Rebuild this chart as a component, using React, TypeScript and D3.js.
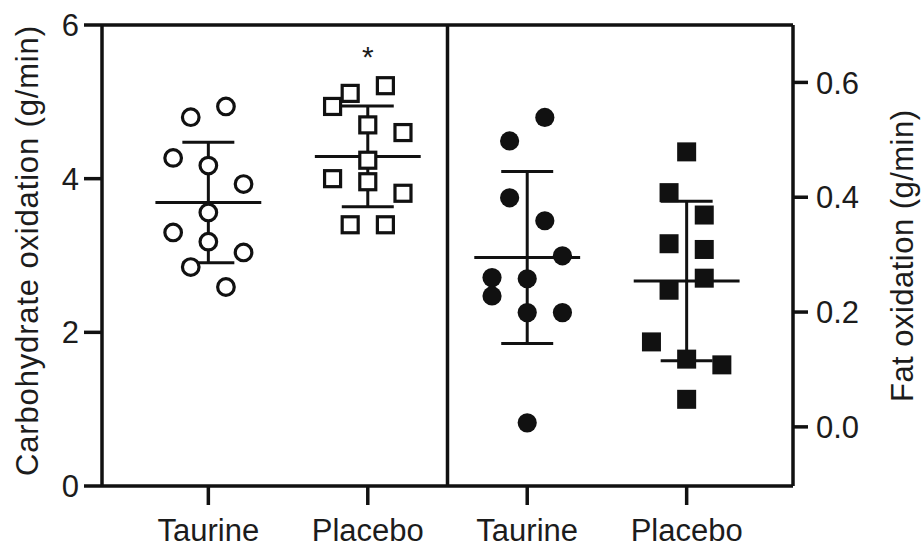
import React from 'react';
import * as d3 from 'd3';

// group labels along the x axis
const groups = ['Taurine', 'Placebo', 'Taurine', 'Placebo'];

// carbohydrate oxidation (g/min), left axis
const choTaurine = [4.8, 4.94, 4.27, 4.17, 3.93, 3.56, 3.3, 3.18, 3.04, 2.85, 2.59];
const choTaurineSlot = [-1, 1, -2, 0, 2, 0, -2, 0, 2, -1, 1];
const choPlacebo = [4.94, 5.11, 5.21, 4.7, 4.6, 4.24, 4.0, 3.96, 3.81, 3.4, 3.4];
const choPlaceboSlot = [-2, -1, 1, 0, 2, 0, -2, 0, 2, -1, 1];
const choMean = [3.69, 4.29];
const choSd = [0.785, 0.655];

// fat oxidation (g/min), right axis
const fatTaurine = [0.539, 0.498, 0.399, 0.359, 0.298, 0.26, 0.258, 0.228, 0.199, 0.199, 0.007];
const fatTaurineSlot = [1, -1, -1, 1, 2, -2, 0, -2, 0, 2, 0];
const fatPlacebo = [0.479, 0.408, 0.369, 0.319, 0.309, 0.259, 0.238, 0.148, 0.118, 0.108, 0.048];
const fatPlaceboSlot = [0, -1, 1, -1, 1, 1, -1, -2, 0, 2, 0];
const fatMean = [0.295, 0.254];
const fatSd = [0.15, 0.139];

const leftTicks = [0, 2, 4, 6];
const rightTicks = [0, 0.2, 0.4, 0.6];

const W = 922;
const H = 552;
const FONT = '"Liberation Sans", Arial, sans-serif';
const INK = '#111';
const TXT = '#1c1c1c';

export default function App() {
  const x = d3.scaleLinear().domain([-0.667, 3.667]).range([102, 793]);
  const yL = d3.scaleLinear().domain([0, 6]).range([486, 25]);
  const yR = d3.scaleLinear().domain([-0.103, 0.7]).range([486, 25]);
  const jitter = d3.scaleLinear().domain([-1, 1]).range([-17.6, 17.6]);
  const fmtR = d3.format('.1f');

  const meanHalf = 0.332;
  const capHalf = 0.163;

  const errorBar = (gi: number, mean: number, sd: number, y: d3.ScaleLinear<number, number>) => (
    <g key={`eb-${gi}`} stroke={INK} strokeWidth={3}>
      <line x1={x(gi - meanHalf)} x2={x(gi + meanHalf)} y1={y(mean)} y2={y(mean)} />
      <line x1={x(gi)} x2={x(gi)} y1={y(mean - sd)} y2={y(mean + sd)} />
      <line x1={x(gi - capHalf)} x2={x(gi + capHalf)} y1={y(mean + sd)} y2={y(mean + sd)} />
      <line x1={x(gi - capHalf)} x2={x(gi + capHalf)} y1={y(mean - sd)} y2={y(mean - sd)} />
    </g>
  );

  return (
    <div style={{ position: 'absolute', left: 0, top: 0 }}>
      <svg width={W} height={H} viewBox={`0 0 ${W} ${H}`} style={{ display: 'block', background: '#fff' }}>
        {/* error bars first, markers drawn over them */}
        {choMean.map((m, i) => errorBar(i, m, choSd[i], yL))}
        {fatMean.map((m, i) => errorBar(i + 2, m, fatSd[i], yR))}

        {/* open circles */}
        {choTaurine.map((v, i) => (
          <circle key={`ct${i}`} cx={x(0) + jitter(choTaurineSlot[i])} cy={yL(v)} r={8.3}
            fill="#fff" stroke={INK} strokeWidth={3.2} />
        ))}
        {/* open squares */}
        {choPlacebo.map((v, i) => (
          <rect key={`cp${i}`} x={x(1) + jitter(choPlaceboSlot[i]) - 8} y={yL(v) - 8} width={16} height={16}
            fill="#fff" stroke={INK} strokeWidth={3.2} />
        ))}
        {/* filled circles */}
        {fatTaurine.map((v, i) => (
          <circle key={`ft${i}`} cx={x(2) + jitter(fatTaurineSlot[i])} cy={yR(v)} r={9.6} fill={INK} />
        ))}
        {/* filled squares */}
        {fatPlacebo.map((v, i) => (
          <rect key={`fp${i}`} x={x(3) + jitter(fatPlaceboSlot[i]) - 9.5} y={yR(v) - 9.5} width={19} height={19} fill={INK} />
        ))}

        {/* frame and axes */}
        <g stroke={INK} strokeWidth={3.5} fill="none">
          <line x1={x(-0.667)} x2={x(3.667)} y1={yL(6)} y2={yL(6)} />
          <line x1={x(-0.667)} x2={x(3.667)} y1={yL(0)} y2={yL(0)} />
          <line x1={x(-0.667)} x2={x(-0.667)} y1={yL(0)} y2={yL(6)} />
          <line x1={x(3.667)} x2={x(3.667)} y1={yL(0)} y2={yL(6)} />
          <line x1={x(1.5)} x2={x(1.5)} y1={yL(0)} y2={yL(6)} />
          {leftTicks.map(t => (
            <line key={`lt${t}`} x1={x(-0.667) - 18} x2={x(-0.667)} y1={yL(t)} y2={yL(t)} />
          ))}
          {rightTicks.map(t => (
            <line key={`rt${t}`} x1={x(3.667)} x2={x(3.667) + 15} y1={yR(t)} y2={yR(t)} />
          ))}
          {groups.map((g, i) => (
            <line key={`bt${i}`} x1={x(i)} x2={x(i)} y1={yL(0)} y2={yL(0) + 19} />
          ))}
        </g>

        <g fontFamily={FONT} fontSize={31} fill={TXT}>
          {leftTicks.map(t => (
            <text key={`ll${t}`} x={79} y={yL(t)} dy="0.36em" textAnchor="end">{t}</text>
          ))}
          {rightTicks.map(t => (
            <text key={`rl${t}`} x={816} y={yR(t)} dy="0.36em" textAnchor="start">{fmtR(t)}</text>
          ))}
          {groups.map((g, i) => (
            <text key={`gl${i}`} x={x(i)} y={541} textAnchor="middle">{g}</text>
          ))}
          <text transform="translate(38,251) rotate(-90)" textAnchor="middle"
            textLength={450} lengthAdjust="spacing">Carbohydrate oxidation (g/min)</text>
          <text transform="translate(913,256) rotate(-90)" textAnchor="middle"
            textLength={292} lengthAdjust="spacing">Fat oxidation (g/min)</text>
          <text x={x(1)} y={67} textAnchor="middle" fontSize={30}>*</text>
        </g>
      </svg>
    </div>
  );
}
